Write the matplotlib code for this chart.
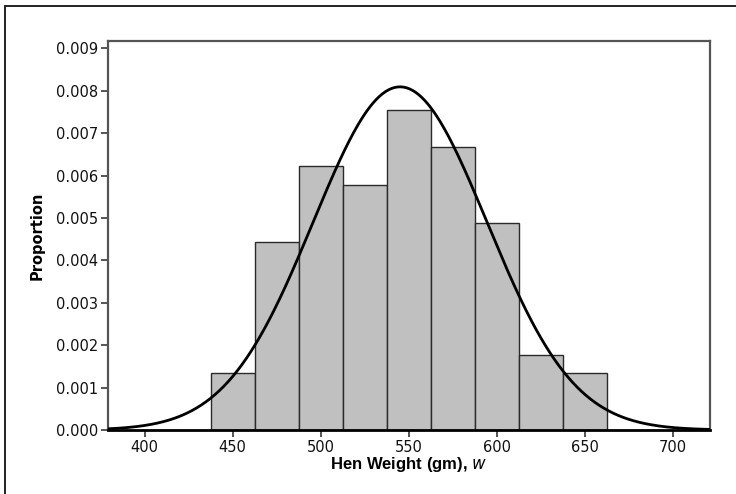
import numpy as np
import matplotlib.pyplot as plt
from matplotlib.patches import Rectangle

# histogram of hen weights: bins of 25 gm, counts out of n hens
bin_edges = [437.5, 462.5, 487.5, 512.5, 537.5, 562.5, 587.5, 612.5, 637.5, 662.5]
counts = [3, 10, 14, 13, 17, 15, 11, 4, 3]

# fitted normal curve
mu = 545.0
sigma = 49.3

x_ticks = [400, 450, 500, 550, 600, 650, 700]
y_ticks = [0.000, 0.001, 0.002, 0.003, 0.004, 0.005, 0.006, 0.007, 0.008, 0.009]

fig = plt.figure(figsize=(7.36, 4.94), dpi=100)
ax = fig.add_axes([107.7 / 736, 1 - 430 / 494, (710 - 107.7) / 736, (430 - 40.7) / 494])

# outer frame (left and top edges visible)
fig.patches.append(Rectangle((5 / 736, -0.01), 1.2, 1 - 6 / 494 + 0.01, transform=fig.transFigure,
                             fill=False, edgecolor='#222222', linewidth=1.4))

n = sum(counts)
edges = np.array(bin_edges)
widths = np.diff(edges)
dens = np.array(counts) / (n * widths)
ax.bar(edges[:-1], dens, width=widths, align='edge', color='#c0c0c0',
       edgecolor='#2a2a2a', linewidth=1.0, zorder=2)

xs = np.linspace(379, 721, 400)
pdf = np.exp(-0.5 * ((xs - mu) / sigma) ** 2) / (sigma * np.sqrt(2 * np.pi))
ax.plot(xs, pdf, color='black', linewidth=2.0, zorder=3)

ax.set_xlim(379, 721)
ax.set_ylim(0, 0.00918)
ax.set_xticks(x_ticks)
ax.set_yticks(y_ticks)
ax.set_yticklabels([f'{v:.3f}' for v in y_ticks])

for side in ['left', 'right', 'top']:
    ax.spines[side].set_color('#555555')
    ax.spines[side].set_linewidth(1.6)
ax.spines['bottom'].set_color('black')
ax.spines['bottom'].set_linewidth(2.0)
ax.spines['bottom'].set_zorder(4)

ax.tick_params(axis='both', direction='out', length=5, width=1.4, color='#555555',
               labelsize=10.5, labelcolor='#111111', pad=2)
for lab in ax.get_xticklabels() + ax.get_yticklabels():
    lab.set_family('DejaVu Sans')

ax.set_xlabel('Hen Weight (gm), $\\mathit{w}$', fontsize=12, fontweight='bold',
              family='Liberation Sans', labelpad=0)
ax.set_ylabel('Proportion', fontsize=10.5, fontweight='bold', family='DejaVu Sans', labelpad=8)

plt.savefig('out.png', dpi=100)
